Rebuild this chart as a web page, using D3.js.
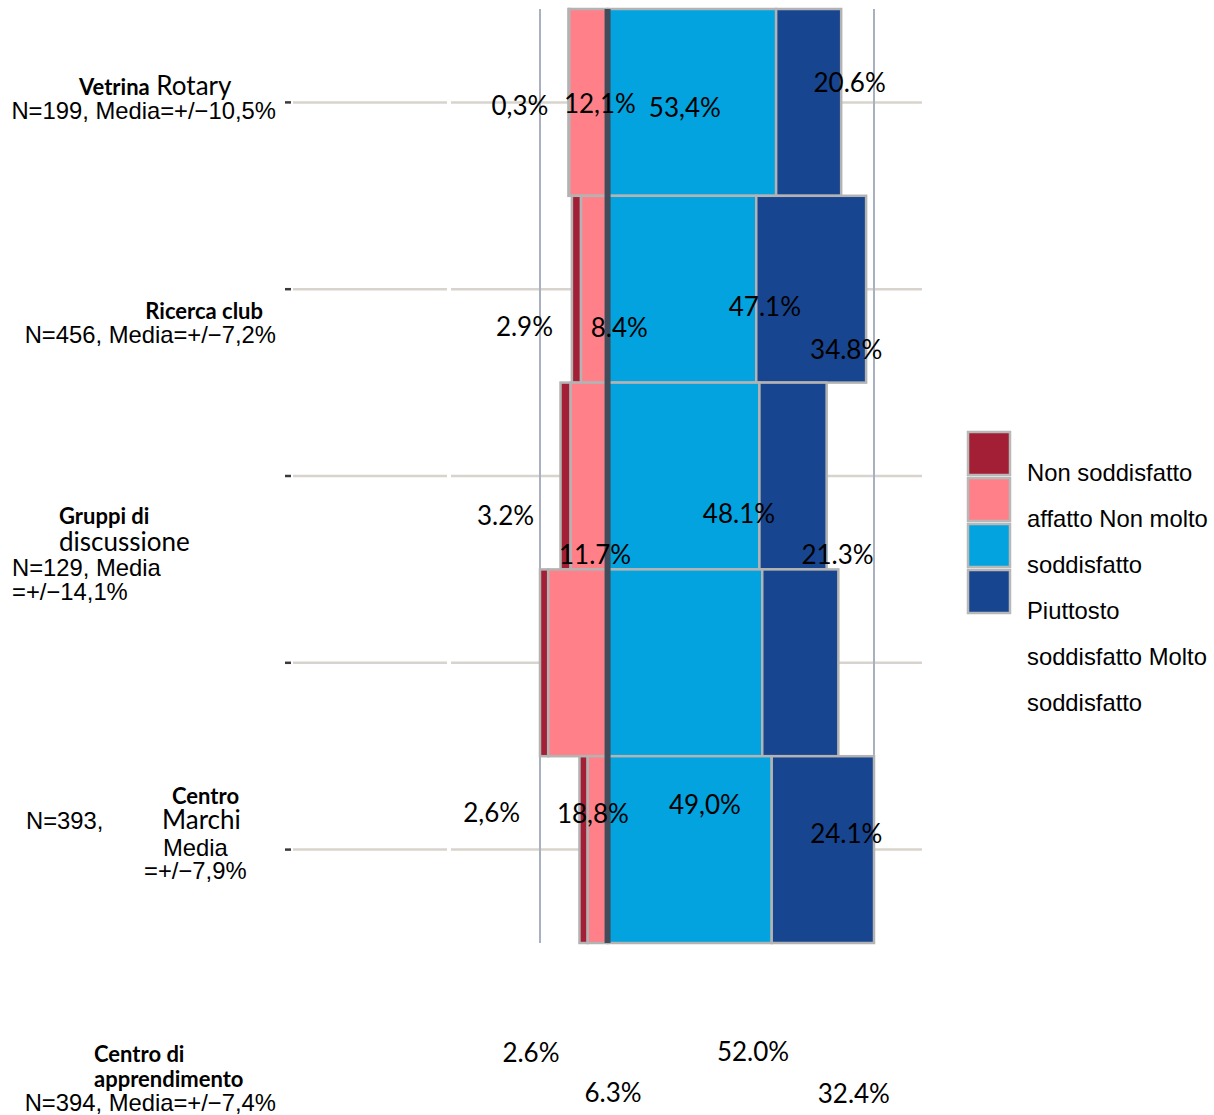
<!DOCTYPE html>
<html><head><meta charset="utf-8">
<script src="https://cdn.jsdelivr.net/npm/d3@7"></script>
<style>body{margin:0;background:#fff}svg{display:block}</style>
</head><body><svg id="chart" width="1214" height="1115"></svg>
<script>
// ---- data ----
const categories = ["Vetrina Rotary","Ricerca club","Gruppi di discussione","Centro Marchi","Centro di apprendimento"];
const nInfo = ["N=199, Media=+/\u221210,5%","N=456, Media=+/\u22127,2%","N=129, Media=+/\u221214,1%","N=393, Media=+/\u22127,9%","N=394, Media=+/\u22127,4%"];
const seriesNames = ["Non soddisfatto affatto","Non molto soddisfatto","Piuttosto soddisfatto","Molto soddisfatto"];
const nonAffatto = [0.3, 2.9, 3.2, 2.6, 2.6];
const nonMolto   = [12.1, 8.4, 11.7, 18.8, 6.3];
const piuttosto  = [53.4, 47.1, 48.1, 49.0, 52.0];
const molto      = [20.6, 34.8, 21.3, 24.1, 32.4];
const valueLabels = [
  ["0,3%","12,1%","53,4%","20.6%"],
  ["2.9%","8.4%","47.1%","34.8%"],
  ["3.2%","11.7%","48.1%","21.3%"],
  ["2,6%","18,8%","49,0%","24.1%"],
  ["2.6%","6.3%","52.0%","32.4%"]
];
const legendLines = ["Non soddisfatto","affatto Non molto","soddisfatto","Piuttosto","soddisfatto Molto","soddisfatto"];

// ---- styles / layout ----
const colors = ["#a31f35","#ff8088","#02a3df","#184590"];
const labelNudge = [
  [[-49,12.6],[11.5,10.6],[-7,14.6],[41,-10.4]],
  [[-52,46.8],[25,47.8],[83,26.8],[35,69.8]],
  [[-60,49],[6,88],[55.5,46.7],[44.5,88]],
  [[-52.4,159.2],[15,160.2],[20,151.2],[46,180.2]],
  [[-52.6,212],[15.4,252],[63.4,211],[31,253]]
];
const catLayout = [
  [{p:[["Vetrina","b"],[" Rotary","l"]],x:79,a:"start",dy:-7.4},{p:[[nInfo[0],"n"]],x:276,a:"end",dy:16.9}],
  [{p:[["Ricerca club","b"]],x:263,a:"end",dy:29.8},{p:[[nInfo[1],"n"]],x:276,a:"end",dy:53.8}],
  [{p:[["Gruppi di","b"]],x:59,a:"start",dy:48},{p:[["discussione","l"]],x:59,a:"start",dy:75},
   {p:[["N=129, Media","n"]],x:12,a:"start",dy:100},{p:[["=+/\u221214,1%","n"]],x:12,a:"start",dy:124}],
  [{p:[["Centro","b"]],x:172,a:"start",dy:141.2},{p:[["N=393,","n"]],x:26,a:"start",dy:166.2},
   {p:[["Marchi","l"]],x:162,a:"start",dy:166.2},{p:[["Media","n"]],x:163,a:"start",dy:193.2},
   {p:[["=+/\u22127,9%","n"]],x:144,a:"start",dy:216.2}],
  [{p:[["Centro di","b"]],x:94,a:"start",dy:212.4},{p:[["apprendimento","b"]],x:94,a:"start",dy:236.9},
   {p:[[nInfo[4],"n"]],x:276,a:"end",dy:261.4}]
];
const fontStyles = {
  b:{family:"Lato",weight:"bold",size:22},
  l:{family:"Lato",weight:"normal",size:26},
  n:{family:"'Liberation Sans', Arial, sans-serif",weight:"normal",size:23.8}
};

// ---- build ----
const rows = categories.map((c,i)=>{
  const a=nonAffatto[i], b=nonMolto[i], cc=piuttosto[i], d=molto[i];
  return {cat:c, i, segs:[
    {k:0, x0:-(a+b), x1:-b},
    {k:1, x0:-b, x1:0},
    {k:2, x0:0, x1:cc},
    {k:3, x0:cc, x1:cc+d}
  ]};
});
const minX = d3.min(rows, r=>r.segs[0].x0);
const maxX = d3.max(rows, r=>r.segs[3].x1);

const x = d3.scaleLinear().domain([minX, maxX]).range([540, 874]);
const y = d3.scaleBand().domain(categories).range([9, 943]).padding(0);
const yc = c => y(c) + y.bandwidth()/2;

const svg = d3.select("#chart");

// gridlines (two pieces) and tick marks
const grid = svg.append("g");
categories.forEach(c=>{
  grid.append("line").attr("x1",293).attr("x2",447).attr("y1",yc(c)).attr("y2",yc(c))
    .attr("stroke","#d8d4cd").attr("stroke-width",2.5);
  grid.append("line").attr("x1",451).attr("x2",922).attr("y1",yc(c)).attr("y2",yc(c))
    .attr("stroke","#d8d4cd").attr("stroke-width",2.5);
});
const yAxis = d3.axisLeft(y).tickSize(6).tickFormat("");
svg.append("g").attr("transform","translate(291,0)").call(yAxis)
  .call(g=>g.select(".domain").remove())
  .call(g=>g.selectAll(".tick line").attr("stroke","#3a3a3a").attr("stroke-width",2.5));

// vertical boundary lines
[minX, maxX].forEach(v=>{
  svg.append("line").attr("x1",x(v)).attr("x2",x(v)).attr("y1",9).attr("y2",943)
    .attr("stroke","#a9b1c1").attr("stroke-width",2);
});

// bars
const bars = svg.append("g");
rows.forEach(r=>{
  bars.selectAll(null).data(r.segs).join("rect")
    .attr("x",s=>x(s.x0)).attr("width",s=>x(s.x1)-x(s.x0))
    .attr("y",y(r.cat)).attr("height",y.bandwidth())
    .attr("fill",s=>colors[s.k]).attr("stroke","#b3b3b3").attr("stroke-width",2.5);
});

// center divider
svg.append("line").attr("x1",x(0)).attr("x2",x(0)).attr("y1",9).attr("y2",943)
  .attr("stroke","#414c5b").attr("stroke-width",6);

// value labels
const lab = svg.append("g").attr("font-family","Lato").attr("font-size",26).attr("fill","#000")
  .attr("text-anchor","middle");
rows.forEach(r=>{
  r.segs.forEach(s=>{
    const n = labelNudge[r.i][s.k];
    lab.append("text").attr("x", (x(s.x0)+x(s.x1))/2 + n[0]).attr("y", yc(r.cat)+n[1])
      .text(valueLabels[r.i][s.k]);
  });
});

// category labels
const cl = svg.append("g").attr("fill","#000");
categories.forEach((c,i)=>{
  catLayout[i].forEach(line=>{
    const t = cl.append("text").attr("x",line.x).attr("y",yc(c)+line.dy).attr("text-anchor",line.a);
    line.p.forEach(([txt,f])=>{
      const st = fontStyles[f];
      t.append("tspan").attr("font-family",st.family).attr("font-weight",st.weight)
        .attr("font-size",st.size).attr("xml:space","preserve").text(txt);
    });
  });
});

// legend
const lg = svg.append("g");
lg.selectAll("rect").data(seriesNames).join("rect")
  .attr("x",968).attr("y",(d,i)=>432+i*46).attr("width",42).attr("height",43)
  .attr("fill",(d,i)=>colors[i]).attr("stroke","#b8b8b8").attr("stroke-width",2.5);
lg.selectAll("text").data(legendLines).join("text")
  .attr("x",1027).attr("y",(d,i)=>481+i*46)
  .attr("font-family","'Liberation Sans', Arial, sans-serif").attr("font-size",23.8).attr("fill","#000")
  .text(d=>d);
</script>
</body></html>
